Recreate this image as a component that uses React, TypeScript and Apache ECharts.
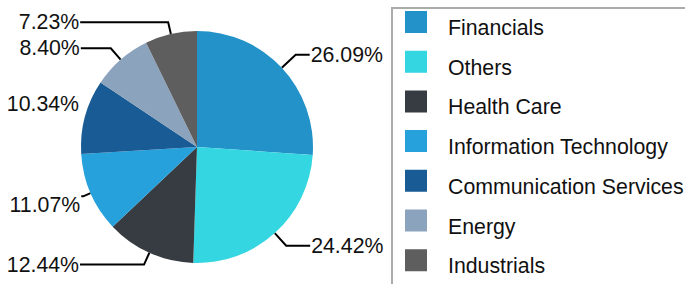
import React, { useEffect, useRef } from "react";
import * as echarts from "echarts";

const categories = [
  "Financials",
  "Others",
  "Health Care",
  "Information Technology",
  "Communication Services",
  "Energy",
  "Industrials",
];
const values = [26.09, 24.42, 12.44, 11.07, 10.34, 8.4, 7.23];
const colors = ["#2292c8", "#33d6e1", "#373c42", "#26a1dc", "#185b95", "#8ca3bd", "#5e5e5e"];
// label line lengths per slice (first segment, second segment)
const lineLen = [19, 17, 13, 8, 1, 15, 12];
const lineLen2 = [14, 24, 64, 2, 4, 30, 88];
// vertical nudges of crowded labels
const labelNudge = [0, 0, 0, 9, -12, 0, 0];

export default function App() {
  const ref = useRef<HTMLDivElement>(null);
  useEffect(() => {
    document.body.style.margin = "0";
    const chart = echarts.init(ref.current!, null, { renderer: "svg" });
    chart.setOption({
      animation: false,
      color: colors,
      graphic: [
        {
          type: "rect",
          shape: { x: 392, y: 8, width: 400, height: 400 },
          style: { fill: "none", stroke: "#ababab", lineWidth: 2 },
          silent: true,
        },
      ],
      legend: {
        orient: "vertical",
        left: 405,
        top: 11,
        padding: 0,
        itemWidth: 22,
        itemHeight: 34,
        itemGap: 5.7,
        icon: "path://M0,0L22,0L22,22L0,22Z M0,34L22,34",
        data: categories,
        itemStyle: { borderWidth: 0 },
        textStyle: {
          fontSize: 21.3,
          color: "#111",
          fontFamily: "Liberation Sans",
          padding: [0, 0, 0, 16],
        },
      },
      series: [
        {
          type: "pie",
          center: [197, 147],
          radius: 116,
          startAngle: 90,
          clockwise: true,
          avoidLabelOverlap: false,
          data: categories.map((c, i) => ({
            name: c,
            value: values[i],
            labelLine: {
              show: lineLen[i] > 2,
              length: lineLen[i],
              length2: lineLen2[i],
            },
          })),
          itemStyle: { borderWidth: 0 },
          labelLayout: (p: any) => ({ dy: labelNudge[p.dataIndex] }),
          label: {
            show: true,
            position: "outside",
            alignTo: "none",
            bleedMargin: 0,
            width: 80,
            overflow: "none",
            formatter: (p: any) => values[p.dataIndex].toFixed(2) + "%",
            fontSize: 21.3,
            color: "#111",
            fontFamily: "Liberation Sans",
            distanceToLabelLine: 1,
          },
          labelLine: {
            show: true,
            lineStyle: { color: "#000", width: 2 },
          },
        },
      ],
    });
    return () => chart.dispose();
  }, []);
  return <div ref={ref} style={{ width: 685, height: 284 }} />;
}
